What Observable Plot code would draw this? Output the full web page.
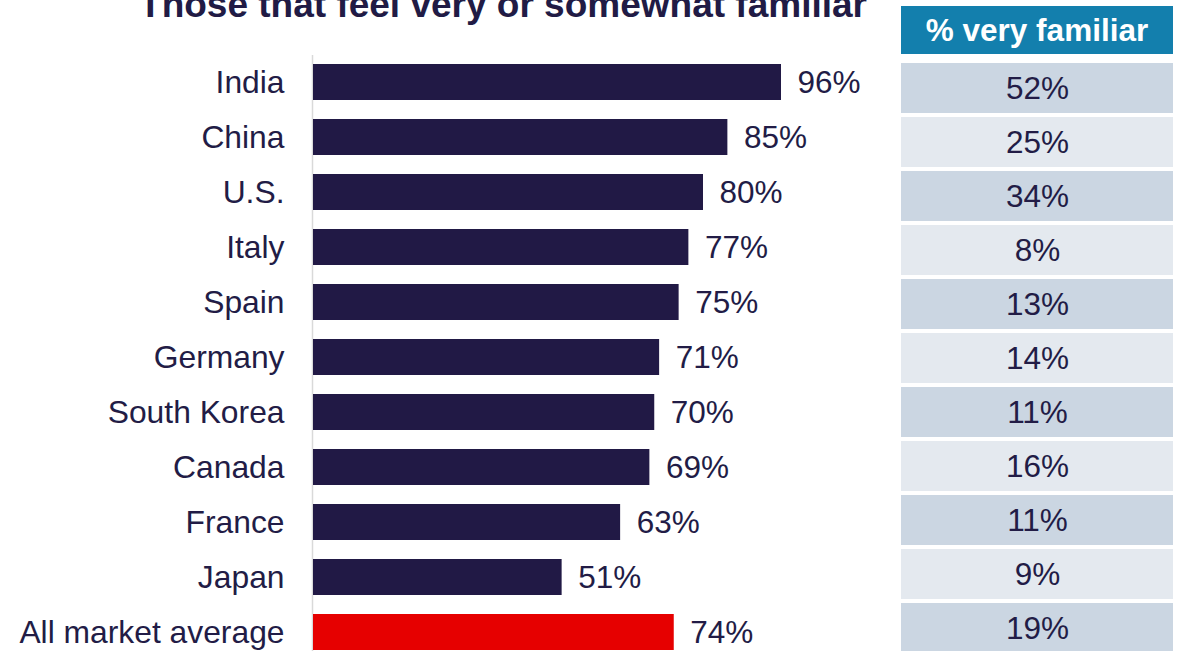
<!DOCTYPE html>
<html>
<head>
<meta charset="utf-8">
<script src="https://cdn.jsdelivr.net/npm/d3@7"></script>
<script src="https://cdn.jsdelivr.net/npm/@observablehq/plot@0.6"></script>
<style>
  html, body { margin: 0; padding: 0; background: #ffffff; }
  #chart {
    position: relative;
    width: 1180px;
    height: 651px;
    overflow: hidden;
    font-family: "Liberation Sans", Arial, sans-serif;
  }
  #title {
    position: absolute;
    left: 103px;
    top: -13.5px;
    width: 800px;
    text-align: center;
    font-size: 37px;
    line-height: 36px;
    font-weight: bold;
    color: #211B45;
    white-space: nowrap;
  }
  #bars { position: absolute; left: 0; top: 0; }
  #tableHeader {
    position: absolute;
    left: 901px;
    top: 6px;
    width: 272px;
    height: 48px;
    background: #137FAD;
    color: #ffffff;
    font-weight: bold;
    font-size: 31.5px;
    display: flex;
    align-items: center;
    justify-content: center;
    white-space: nowrap;
  }
  #table { position: absolute; left: 901px; top: 0; }
</style>
</head>
<body>
<div id="chart">
  <div id="title">Those that feel very or somewhat familiar</div>
  <div id="bars"></div>
  <div id="tableHeader">% very familiar</div>
  <div id="table"></div>
</div>
<script>
// Survey results by market
const countries = ["India", "China", "U.S.", "Italy", "Spain", "Germany", "South Korea", "Canada", "France", "Japan", "All market average"];
const familiar = [96, 85, 80, 77, 75, 71, 70, 69, 63, 51, 74];        // % very or somewhat familiar
const veryFamiliar = [52, 25, 34, 8, 13, 14, 11, 16, 11, 9, 19];     // % very familiar
const averageLabel = "All market average";

const rows = countries.map((country, i) => ({
  country,
  familiar: familiar[i],
  very: veryFamiliar[i],
  group: country === averageLabel ? "average" : "market",
  shade: i % 2 === 0 ? "dark" : "light"
}));

const ink = "#221C46";
const font = "'Liberation Sans', Arial, sans-serif";
const labelSize = 31.8;

// Horizontal bars: familiarity share per market
const bars = Plot.plot({
  width: 900,
  height: 651,
  marginLeft: 313,
  marginRight: 99.5,
  marginTop: 55,
  marginBottom: 0,
  style: { fontFamily: font, background: "transparent", color: ink },
  x: { domain: [0, 100], axis: null },
  y: { domain: countries, range: [44.875, 669.125], padding: 0.35, label: null },
  color: { domain: ["market", "average"], range: ["#211945", "#E60000"] },
  marks: [
    Plot.ruleX([0], { stroke: "#d9d9d9", strokeWidth: 1.5, dx: -1 }),
    Plot.barX(rows, { x: "familiar", y: "country", fill: "group" }),
    Plot.axisY({ tickSize: 0, tickPadding: 29, fontSize: labelSize, fill: ink, label: null }),
    Plot.text(rows, {
      x: "familiar",
      y: "country",
      text: d => d.familiar + "%",
      textAnchor: "start",
      dx: 16,
      fontSize: 31.5,
      fill: ink
    })
  ]
});
document.getElementById("bars").append(bars);

// Side table: share that is very familiar
const table = Plot.plot({
  width: 272,
  height: 651,
  margin: 0,
  style: { fontFamily: font, background: "transparent", color: ink },
  y: { domain: countries, range: [58.3, 659.1], padding: 0.065, axis: null },
  color: { domain: ["dark", "light"], range: ["#CBD6E2", "#E4E9EF"] },
  marks: [
    Plot.cell(rows, { y: "country", fill: "shade" }),
    Plot.text(rows, {
      y: "country",
      text: d => d.very + "%",
      frameAnchor: "middle",
      fontSize: 31.5,
      fill: ink
    })
  ]
});
document.getElementById("table").append(table);
</script>
</body>
</html>
